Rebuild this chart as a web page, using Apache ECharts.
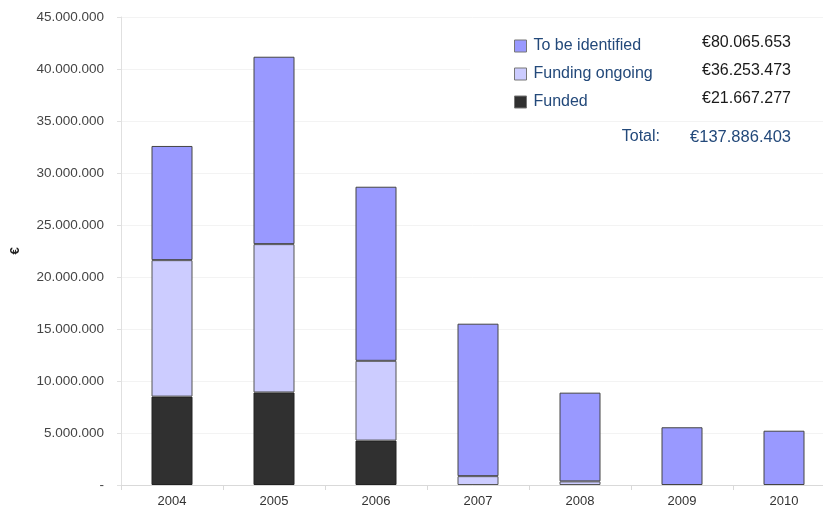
<!DOCTYPE html>
<html>
<head>
<meta charset="utf-8">
<script src="https://cdn.jsdelivr.net/npm/echarts@6/dist/echarts.min.js"></script>
<style>
html,body{margin:0;padding:0;background:#fff;}
#chart{width:823px;height:513px;}
</style>
</head>
<body>
<div id="chart"></div>
<script>
const categories = ['2004', '2005', '2006', '2007', '2008', '2009', '2010'];
const funded = [8500000, 8900000, 4270000, null, null, null, null];
const fundingOngoing = [13120000, 14260000, 7670000, 850000, 350000, null, null];
const toBeIdentified = [10980000, 18020000, 16740000, 14660000, 8530000, 5550000, 5220000];
const seriesNames = ['To be identified', 'Funding ongoing', 'Funded'];
const legendTotals = ['€80.065.653', '€36.253.473', '€21.667.277'];
const totalLabel = 'Total:';
const totalValue = '€137.886.403';
const yMax = 45000000;
const yInterval = 5000000;

const FONT = 'Liberation Sans, Arial, sans-serif';
const BLUE_TEXT = '#23497a';

function fmt(v) {
  if (v === 0) return '-';
  return String(v).replace(/\B(?=(\d{3})+(?!\d))/g, '.');
}

const chart = echarts.init(document.getElementById('chart'), null, {renderer: 'canvas'});

const barCommon = {
  type: 'bar',
  stack: 'total',
  barWidth: 41,
  emphasis: {disabled: true}
};

const legendRowY = [35, 63, 91];

const option = {
  animation: false,
  backgroundColor: '#ffffff',
  textStyle: {fontFamily: FONT},
  grid: {left: 121, right: -12, top: 17, bottom: 28, containLabel: false, outerBoundsMode: 'none'},
  legend: {
    data: seriesNames,
    orient: 'vertical',
    left: 509,
    top: 33,
    itemWidth: 12,
    itemHeight: 12,
    itemGap: 12,
    icon: 'rect',
    z: 20,
    itemStyle: {borderColor: '#777', borderWidth: 1},
    textStyle: {fontFamily: FONT, fontSize: 16, color: BLUE_TEXT, padding: [2, 0, 0, 2]},
    selectedMode: false
  },
  xAxis: {
    type: 'category',
    data: categories,
    axisLine: {lineStyle: {color: '#d9d9d9', width: 1}},
    axisTick: {show: true, length: 5, lineStyle: {color: '#d9d9d9'}},
    axisLabel: {fontFamily: FONT, fontSize: 13, color: '#333', margin: 10}
  },
  yAxis: {
    type: 'value',
    min: 0,
    max: yMax,
    interval: yInterval,
    name: '€',
    nameLocation: 'middle',
    nameRotate: 90,
    nameGap: 99,
    nameTextStyle: {fontFamily: FONT, fontSize: 13, fontWeight: 'bold', color: '#222'},
    axisLine: {show: true, lineStyle: {color: '#e0e0e0', width: 1}},
    axisTick: {show: true, length: 4, lineStyle: {color: '#e0e0e0'}},
    axisLabel: {fontFamily: FONT, fontSize: 13.5, color: '#444', margin: 17, formatter: fmt},
    splitLine: {lineStyle: {color: '#f3f3f3', width: 1}}
  },
  graphic: [
    {type: 'rect', z: 5, shape: {x: 470, y: 24, width: 353, height: 88}, style: {fill: '#ffffff'}}
  ].concat(legendTotals.map((t, i) => ({
    type: 'text', z: 21, x: 791, y: legendRowY[i],
    style: {text: t, fontFamily: FONT, fontSize: 16, fill: '#1a1a1a', align: 'right', verticalAlign: 'top'}
  }))).concat([
    {type: 'text', z: 21, x: 660, y: 129, style: {text: totalLabel, fontFamily: FONT, fontSize: 16, fill: BLUE_TEXT, align: 'right', verticalAlign: 'top'}},
    {type: 'text', z: 21, x: 791, y: 129, style: {text: totalValue, fontFamily: FONT, fontSize: 16.5, fill: BLUE_TEXT, align: 'right', verticalAlign: 'top'}}
  ]),
  series: [
    Object.assign({}, barCommon, {
      name: 'Funded', data: funded,
      itemStyle: {color: '#303030', borderColor: '#222', borderWidth: 1}
    }),
    Object.assign({}, barCommon, {
      name: 'Funding ongoing', data: fundingOngoing,
      itemStyle: {color: '#ccccff', borderColor: '#555', borderWidth: 1}
    }),
    Object.assign({}, barCommon, {
      name: 'To be identified', data: toBeIdentified,
      itemStyle: {color: '#9999ff', borderColor: '#444', borderWidth: 1}
    })
  ]
};

chart.setOption(option);
</script>
</body>
</html>
